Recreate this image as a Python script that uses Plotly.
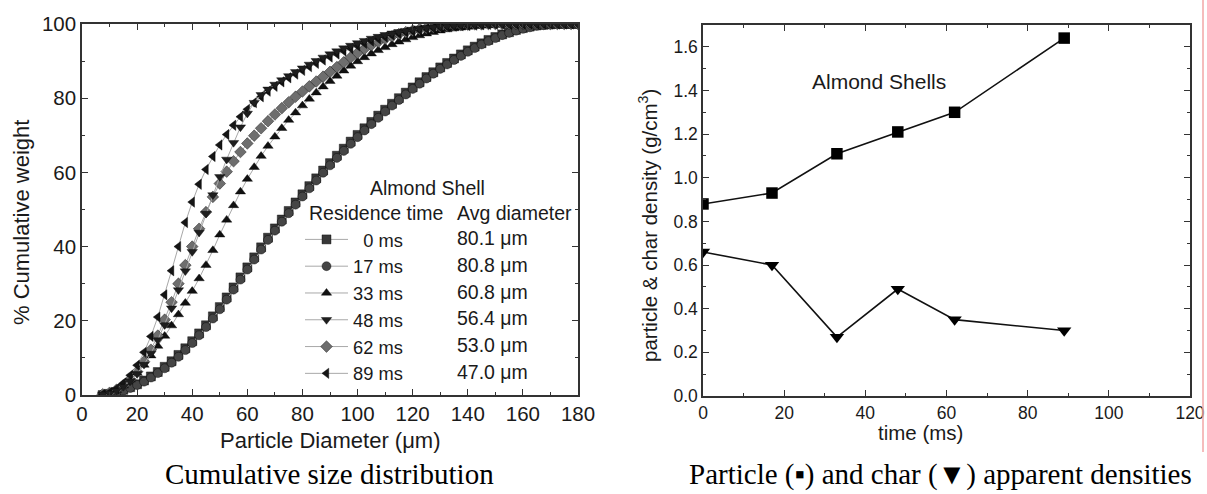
import plotly.graph_objects as go

W, H = 1207, 494

def px(p):
    return p / W

def py(p):
    return 1 - p / H

# ---------------- data: cumulative size distribution ----------------
diameter_um = [7.5, 10, 12.5, 15, 17.5, 20, 22.5, 25, 27.5, 30, 32.5, 35, 37.5, 40, 42.5, 45, 47.5, 50,
               52.5, 55, 57.5, 60, 62.5, 65, 67.5, 70, 72.5, 75, 77.5, 80, 82.5, 85, 87.5, 90, 92.5, 95,
               97.5, 100, 102.5, 105, 107.5, 110, 112.5, 115, 117.5, 120, 122.5, 125, 127.5, 130, 132.5,
               135, 137.5, 140, 142.5, 145, 147.5, 150, 152.5, 155, 157.5, 160, 162.5, 165, 167.5, 170,
               172.5, 175, 177.5, 180]

cum_0ms = [0, 0.3, 0.8, 1.4, 2.1, 2.9, 3.9, 5.0, 6.2, 7.6, 9.1, 10.8, 12.6, 14.5, 16.6, 18.8, 21.2, 23.7,
           26.3, 29.0, 31.7, 34.4, 37.1, 39.8, 42.4, 44.9, 47.3, 49.6, 51.9, 54.1, 56.3, 58.4, 60.5, 62.5,
           64.5, 66.4, 68.3, 70.1, 71.9, 73.6, 75.3, 76.9, 78.5, 80.0, 81.5, 82.9, 84.3, 85.7, 87.0, 88.3,
           89.5, 90.7, 91.8, 92.9, 93.9, 94.8, 95.7, 96.5, 97.2, 97.8, 98.4, 98.9, 99.3, 99.6, 99.8, 99.9,
           100, 100, 100, 100]
cum_17ms = [0, 0.2, 0.6, 1.2, 1.9, 2.7, 3.6, 4.7, 5.9, 7.2, 8.7, 10.3, 12.1, 14.0, 16.1, 18.3, 20.6, 23.1,
            25.7, 28.4, 31.1, 33.8, 36.5, 39.2, 41.8, 44.3, 46.7, 49.0, 51.3, 53.5, 55.7, 57.8, 59.9, 61.9,
            63.9, 65.8, 67.7, 69.5, 71.3, 73.0, 74.7, 76.4, 78.0, 79.5, 81.0, 82.5, 83.9, 85.3, 86.6, 87.9,
            89.1, 90.3, 91.4, 92.5, 93.5, 94.5, 95.4, 96.2, 97.0, 97.6, 98.2, 98.7, 99.1, 99.5, 99.7, 99.9,
            100, 100, 100, 100]
cum_33ms = [0.1, 0.5, 1.3, 2.5, 4.1, 5.9, 8.1, 10.6, 13.2, 15.9, 18.7, 21.7, 24.8, 28.0, 31.4, 35.0, 39.0,
            43.2, 47.2, 51.1, 54.8, 58.2, 61.4, 64.4, 67.1, 69.6, 71.9, 74.1, 76.1, 78.0, 79.8, 81.5, 83.1,
            84.6, 86.0, 87.4, 88.7, 89.9, 91.0, 92.0, 92.9, 93.7, 94.5, 95.2, 95.8, 96.4, 96.9, 97.4, 97.8,
            98.2, 98.5, 98.8, 99.0, 99.2, 99.4, 99.5, 99.6, 99.7, 99.8, 99.9, 99.9, 100, 100, 100, 100, 100,
            100, 100, 100, 100]
cum_48ms = [0.2, 0.5, 1.2, 2.3, 3.8, 5.7, 8.2, 11.2, 14.8, 18.9, 23.4, 28.3, 33.4, 38.6, 43.8, 48.9, 53.9,
            58.8, 63.5, 68.0, 72.2, 75.9, 78.8, 80.9, 82.4, 83.7, 84.9, 86.0, 87.1, 88.1, 89.1, 90.1, 91.0,
            91.9, 92.7, 93.5, 94.2, 94.9, 95.5, 96.1, 96.6, 97.1, 97.5, 97.9, 98.2, 98.5, 98.8, 99.0, 99.2,
            99.4, 99.5, 99.6, 99.7, 99.8, 99.85, 99.9, 99.95, 100, 100, 100, 100, 100, 100, 100, 100, 100,
            100, 100, 100, 100]
cum_62ms = [0.2, 0.6, 1.4, 2.6, 4.2, 6.3, 9.0, 12.2, 16.0, 20.3, 25.0, 30.0, 35.0, 40.0, 44.8, 49.3, 53.4,
            57.0, 60.2, 63.0, 65.5, 67.8, 69.9, 71.9, 73.8, 75.6, 77.3, 78.9, 80.4, 81.8, 83.2, 84.5, 85.8,
            87.1, 88.4, 89.7, 91.0, 92.2, 93.3, 94.3, 95.2, 96.0, 96.7, 97.3, 97.8, 98.2, 98.6, 98.9, 99.1,
            99.3, 99.5, 99.6, 99.7, 99.8, 99.9, 99.9, 100, 100, 100, 100, 100, 100, 100, 100, 100, 100,
            100, 100, 100, 100]
cum_89ms = [0.2, 0.7, 1.7, 3.2, 5.3, 8.0, 11.5, 15.8, 21.0, 27.0, 33.5, 40.0, 46.5, 52.0, 56.8, 60.8, 64.3,
            67.4, 70.2, 72.7, 75.0, 77.0, 78.8, 80.4, 81.9, 83.2, 84.4, 85.5, 86.5, 87.5, 88.5, 89.4, 90.3,
            91.1, 91.9, 92.7, 93.4, 94.1, 94.8, 95.4, 96.0, 96.5, 97.0, 97.4, 97.8, 98.1, 98.4, 98.7, 98.9,
            99.1, 99.3, 99.4, 99.5, 99.6, 99.7, 99.8, 99.9, 99.9, 100, 100, 100, 100, 100, 100, 100, 100,
            100, 100, 100, 100]

residence_labels = ["\u00a0\u00a00 ms", "17 ms", "33 ms", "48 ms", "62 ms", "89 ms"]
avg_diameter_labels = ["80.1 \u03bcm", "80.8 \u03bcm", "60.8 \u03bcm", "56.4 \u03bcm", "53.0 \u03bcm", "47.0 \u03bcm"]

# ---------------- data: densities ----------------
time_ms = [0, 17, 33, 48, 62, 89]
particle_density = [0.88, 0.93, 1.11, 1.21, 1.30, 1.64]
char_density = [0.66, 0.60, 0.27, 0.49, 0.35, 0.30]

for s in (cum_0ms, cum_17ms, cum_33ms, cum_48ms, cum_62ms, cum_89ms):
    assert len(s) == len(diameter_um), len(s)

FONT = "Liberation Sans, Arial, sans-serif"
SERIF = "Liberation Serif, Times New Roman, serif"

fig = go.Figure()

series = [
    (cum_0ms, 0, "square", "#383838"),
    (cum_17ms, 1, "circle", "#454545"),
    (cum_33ms, 2, "triangle-up", "#111111"),
    (cum_62ms, 4, "diamond", "#6e6e6e"),
    (cum_89ms, 5, "triangle-left", "#151515"),
    (cum_48ms, 3, "triangle-down", "#1e1e1e"),
]
for vals, idx, sym, col in series:
    fig.add_trace(go.Scatter(
        x=diameter_um, y=vals, mode="lines+markers", name=residence_labels[idx],
        legendrank=idx + 1,
        line=dict(color="#a8a8a8", width=1),
        marker=dict(symbol=sym, size=9, color=col, line=dict(color="#000000", width=0.4)),
        xaxis="x", yaxis="y",
    ))

fig.add_trace(go.Scatter(
    x=time_ms, y=particle_density, mode="lines+markers", showlegend=False,
    line=dict(color="#111111", width=1.6),
    marker=dict(symbol="square", size=11.5, color="#000000"),
    xaxis="x2", yaxis="y2",
))
fig.add_trace(go.Scatter(
    x=time_ms, y=char_density, mode="lines+markers", showlegend=False,
    line=dict(color="#111111", width=1.6),
    marker=dict(symbol="triangle-down", size=12.5, color="#000000"),
    xaxis="x2", yaxis="y2",
))

def ax(**kw):
    base = dict(showline=True, linecolor="#333333", linewidth=1.5, mirror="ticks",
                ticks="inside", ticklen=6, tickwidth=1.4, tickcolor="#333333",
                showgrid=False, zeroline=False, automargin=False,
                minor=dict(ticks="inside", ticklen=3.5, tickwidth=1.2, tickcolor="#333333", showgrid=False))
    base.update(kw)
    return base

fig.update_layout(
    width=W, height=H,
    margin=dict(l=0, r=0, t=0, b=0),
    paper_bgcolor="white", plot_bgcolor="white",
    font=dict(family=FONT, color="#1a1a1a"),
    xaxis=ax(domain=[px(82), px(578)], range=[0, 180], dtick=20, tick0=0, anchor="y",
             tickfont=dict(size=20.5), minor_dtick=10),
    yaxis=ax(domain=[py(395), py(24)], range=[0, 100], dtick=20, tick0=0, anchor="x",
             tickfont=dict(size=20.5), minor_dtick=10),
    xaxis2=ax(domain=[px(703), px(1190)], range=[0, 120], dtick=20, tick0=0, anchor="y2",
              tickfont=dict(size=17.5), minor_dtick=10),
    yaxis2=ax(domain=[py(396), py(25)], range=[0, 1.7], dtick=0.2, tick0=0, anchor="x2",
              tickformat=".1f", tickfont=dict(size=17.5), minor_dtick=0.1),
    legend=dict(x=px(300), y=py(221), xanchor="left", yanchor="top",
                bgcolor="rgba(0,0,0,0)", borderwidth=0, itemwidth=43,
                font=dict(family=FONT, size=18.3, color="#1a1a1a"),
                traceorder="normal", tracegroupgap=0),
    showlegend=True,
)

def pann(text, x, y, size, anchor="center", angle=0, family=FONT, color="#1a1a1a"):
    return dict(text=text, x=px(x), y=py(y), xref="paper", yref="paper", showarrow=False,
                font=dict(size=size, family=family, color=color), xanchor=anchor, yanchor="middle",
                textangle=angle)

ann = [
    # axis titles
    pann("Particle Diameter (\u03bcm)", 330, 440, 22),
    pann("% Cumulative weight", 21, 223, 22, angle=-90),
    pann("time (ms)", 920, 432, 20.5),
    pann("particle &amp; char density (g/cm<sup>3</sup>)", 648, 226, 20.5, angle=-90),
    # legend header and second column
    pann("Almond Shell", 427, 188, 19.5),
    pann("Residence time", 307, 213, 19.5, anchor="left"),
    pann("Avg diameter", 455, 213, 19.5, anchor="left"),
]
for i, lab in enumerate(avg_diameter_labels):
    ann.append(pann(lab, 455, 238 + i * 26.8, 19.5, anchor="left"))
ann.append(dict(text="Almond Shells", x=43.3, y=1.44, xref="x2", yref="y2", showarrow=False,
                font=dict(size=21), xanchor="center", yanchor="middle"))
# captions
ann.append(pann("Cumulative size distribution", 329, 474, 29, family=SERIF, color="#000000"))
ann.append(pann("Particle (\u25aa) and char (\u25bc) apparent densities", 940, 474, 29,
                family=SERIF, color="#000000"))
fig.update_layout(annotations=ann)

fig.add_shape(type="line", xref="paper", yref="paper", x0=px(1203), x1=px(1203), y0=1, y1=py(452),
              line=dict(color="#f2a6a6", width=1.5))

fig.write_html(
    "out.html",
    config={"displayModeBar": False},
    post_script="document.documentElement.style.overflow='hidden';"
                "document.body.style.overflow='hidden';document.body.style.margin='0';",
)
